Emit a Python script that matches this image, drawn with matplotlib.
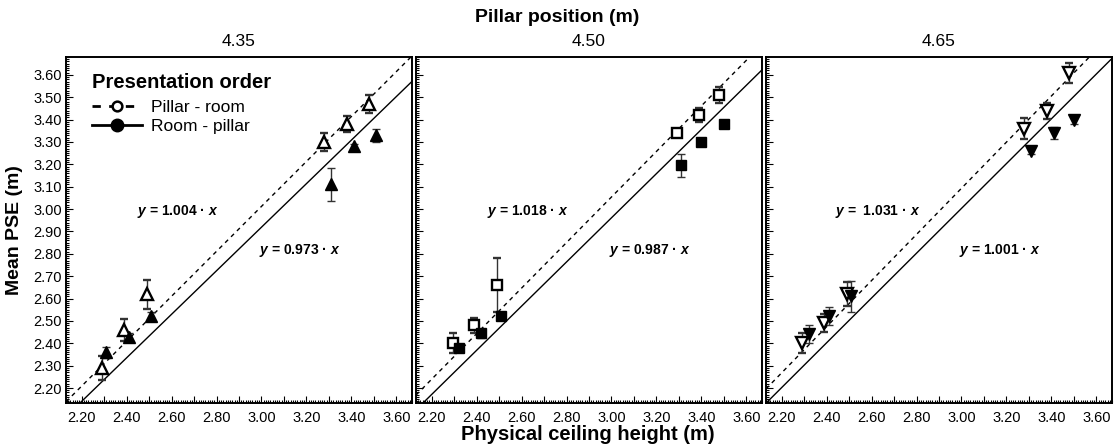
import numpy as np
import matplotlib.pyplot as plt
from matplotlib.lines import Line2D
from matplotlib.ticker import MultipleLocator, FuncFormatter

plt.rcParams['font.family'] = ['Liberation Sans', 'DejaVu Sans']
plt.rcParams['mathtext.fontset'] = 'custom'
plt.rcParams['mathtext.bfit'] = 'Liberation Sans:italic:bold'
plt.rcParams['mathtext.bf'] = 'Liberation Sans:bold'
plt.rcParams['mathtext.rm'] = 'Liberation Sans'

# pillar positions (one panel each)
pillar_pos = ['4.35', '4.50', '4.65']
markers = ['^', 's', 'v']
msizes = [8, 6.5, 8]

# physical ceiling height (slightly jittered in the original figure)
x_pr = [[2.29, 2.39, 2.49, 3.28, 3.38, 3.48],
        [2.295, 2.39, 2.49, 3.29, 3.39, 3.48],
        [2.29, 2.39, 2.49, 3.28, 3.38, 3.48]]
x_rp = [[2.31, 2.41, 2.51, 3.31, 3.41, 3.51],
        [2.32, 2.42, 2.51, 3.31, 3.40, 3.50],
        [2.32, 2.41, 2.51, 3.31, 3.41, 3.50]]

# mean PSE, pillar - room order (open markers)
pse_pr = [[2.29, 2.46, 2.62, 3.30, 3.38, 3.47],
          [2.40, 2.48, 2.66, 3.34, 3.42, 3.51],
          [2.40, 2.49, 2.62, 3.36, 3.44, 3.61]]
err_pr = [[0.055, 0.05, 0.065, 0.04, 0.035, 0.04],
          [0.045, 0.035, 0.12, 0.015, 0.03, 0.035],
          [0.045, 0.04, 0.055, 0.048, 0.035, 0.045]]

# mean PSE, room - pillar order (filled markers)
pse_rp = [[2.36, 2.43, 2.52, 3.11, 3.28, 3.33],
          [2.38, 2.445, 2.52, 3.195, 3.30, 3.38],
          [2.44, 2.52, 2.61, 3.26, 3.34, 3.40]]
err_rp = [[0.025, 0.015, 0.02, 0.075, 0.01, 0.03],
          [0.015, 0.02, 0.01, 0.05, 0.015, 0.01],
          [0.04, 0.04, 0.07, 0.015, 0.025, 0.02]]

# fitted slopes through the origin
slope_pr = [1.004, 1.018, 1.031]
slope_rp = [0.973, 0.987, 1.001]
label_pr = ['1.004', '1.018', ' 1.031']
label_rp = ['0.973', '0.987', '1.001']

xlim = (2.13, 3.67)
ylim = (2.133, 3.68)

fig = plt.figure(figsize=(11.14, 4.46), dpi=100)
W, H = 1114, 446
lefts = [66, 416, 766]

for i in range(3):
    ax = fig.add_axes([lefts[i] / W, 43 / H, 346 / W, 346 / H])
    xx = np.array(xlim)
    ax.plot(xx, slope_pr[i] * xx, color='black', lw=1.0, ls=(0, (3, 3)))
    ax.plot(xx, slope_rp[i] * xx, color='black', lw=1.0, ls='-')

    ax.errorbar(x_pr[i], pse_pr[i], yerr=err_pr[i], fmt=markers[i], ms=msizes[i],
                mfc='white', mec='black', mew=1.7, ecolor='#333333',
                elinewidth=1.0, capsize=3, capthick=1.0, zorder=3)
    ax.errorbar(x_rp[i], pse_rp[i], yerr=err_rp[i], fmt=markers[i], ms=msizes[i],
                mfc='black', mec='black', mew=1.0, ecolor='#333333',
                elinewidth=1.0, capsize=3, capthick=1.0, zorder=3)

    ax.text(2.628, 2.99, r'$\bfit{y}$ = ' + label_pr[i] + r' · $\bfit{x}$',
            ha='center', va='center', fontsize=10, fontweight='bold')
    ax.text(3.168, 2.813, r'$\bfit{y}$ = ' + label_rp[i] + r' · $\bfit{x}$',
            ha='center', va='center', fontsize=10, fontweight='bold')

    ax.set_xlim(xlim)
    ax.set_ylim(ylim)
    ax.xaxis.set_major_locator(MultipleLocator(0.1))
    ax.xaxis.set_minor_locator(MultipleLocator(0.01))
    ax.xaxis.set_major_formatter(FuncFormatter(
        lambda v, p: '%.2f' % v if round(v * 10) % 2 == 0 else ''))
    ax.yaxis.set_major_locator(MultipleLocator(0.1))
    ax.yaxis.set_minor_locator(MultipleLocator(0.01))
    ax.yaxis.set_major_formatter(FuncFormatter(lambda v, p: '%.2f' % v))
    ax.tick_params(which='both', direction='in', top=False, right=False,
                   labelsize=10.5, width=0.8, pad=3)
    ax.tick_params(axis='x', which='major', pad=6)
    ax.tick_params(which='major', length=5)
    ax.tick_params(which='minor', length=2.5)
    if i > 0:
        ax.tick_params(labelleft=False)
    for s in ax.spines.values():
        s.set_linewidth(1.4)
    ax.set_title(pillar_pos[i], fontsize=12.5, pad=8)

    if i == 0:
        handles = [Line2D([], [], color='black', ls=(0, (3, 3)), lw=2, marker='o',
                          mfc='white', mec='black', mew=1.8, ms=7),
                   Line2D([], [], color='black', ls='-', lw=2, marker='o',
                          mfc='black', mec='black', ms=9)]
        leg = ax.legend(handles, ['Pillar - room', 'Room - pillar'],
                        loc='upper left', bbox_to_anchor=(0.04, 0.99),
                        frameon=False, fontsize=12.5, handlelength=2.9,
                        handletextpad=0.5, labelspacing=0.2, borderpad=0.2,
                        title='Presentation order',
                        title_fontproperties={'weight': 'bold', 'size': 14.5},
                        alignment='left')
        leg._legend_box.sep = 6

fig.text(557 / W, 1 - 17 / H, 'Pillar position (m)', ha='center', va='center',
         fontsize=14, fontweight='bold')
fig.text(588 / W, 1 - 440 / H, 'Physical ceiling height (m)', ha='center',
         va='baseline', fontsize=14.5, fontweight='bold')
fig.text(15 / W, 1 - 230 / H, 'Mean PSE (m)', ha='center', va='center',
         rotation=90, fontsize=14, fontweight='bold')

fig.savefig('out.png', dpi=100)
